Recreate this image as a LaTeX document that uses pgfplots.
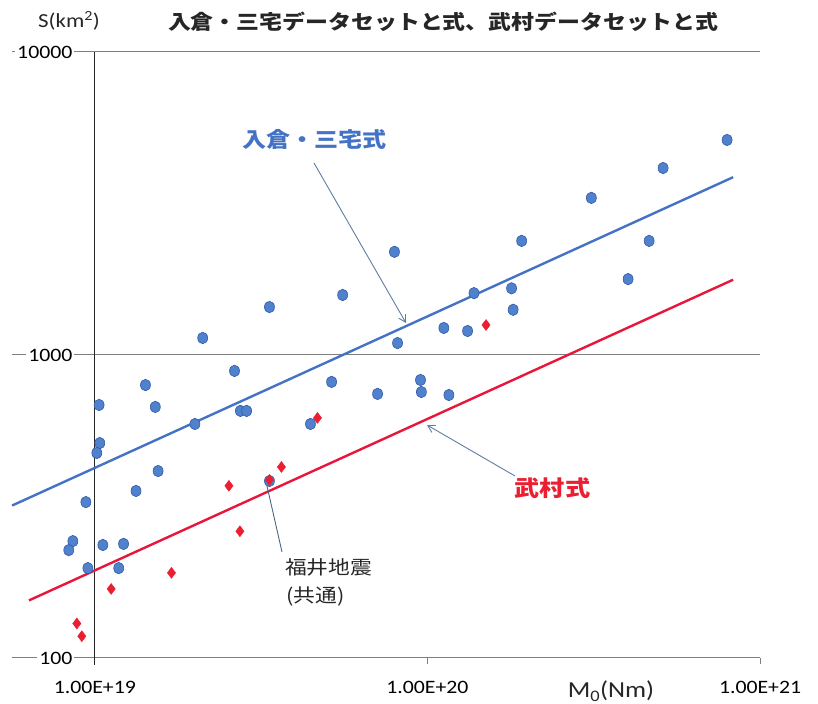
\documentclass[border=0pt]{standalone}
\usepackage{fontspec}
\setmainfont{Carlito}[FakeStretch=1.15]
\newfontfamily\jp{Noto Sans CJK JP}[FakeStretch=1.15]
\usepackage{pgfplots}
\usepackage{pgfplotstable}
\pgfplotsset{compat=1.18}
\usetikzlibrary{arrows.meta}

\definecolor{blueline}{RGB}{68,114,196}
\definecolor{bluedot}{RGB}{79,129,205}
\definecolor{bluedge}{RGB}{50,90,168}
\definecolor{redline}{RGB}{232,22,58}
\definecolor{reddot}{RGB}{235,30,50}
\definecolor{gridgray}{RGB}{128,128,128}
\definecolor{arrowgray}{RGB}{95,125,165}

% Irikura-Miyake data set
\pgfplotstableread{
M0 S
7.96e20 5125
5.11e20 4140
3.11e20 3300
7.96e19 2190
1.92e20 2380
4.64e20 2380
4.01e20 1780
1.38e20 1600
1.79e20 1660
1.81e20 1410
1.12e20 1228
1.32e20 1200
8.13e19 1095
9.53e19 827
9.59e19 755
1.16e20 738
5.56e19 1578
3.35e19 1440
2.11e19 1138
2.63e19 886
5.15e19 815
7.08e19 744
2.74e19 654
2.86e19 654
4.45e19 592
1.42e19 796
1.03e19 684
1.52e19 674
2.00e19 592
1.035e19 512
1.014e19 475
1.55e19 414
1.33e19 356
9.40e18 327
3.35e19 384
8.59e18 243
8.35e18 227
1.057e19 236
1.22e19 238
9.53e18 198
1.18e19 198
}\irikura

% Takemura data set
\pgfplotstableread{
M0 S
1.50e20 1256
4.67e19 620
3.64e19 427
2.53e19 370
3.35e19 387
2.73e19 262
1.70e19 191
1.12e19 169
8.83e18 130
9.14e18 118
}\takemura

\begin{document}
\begin{tikzpicture}
\begin{axis}[
  at={(0,0)}, anchor=south west,
  scale only axis, width=748bp, height=606bp,
  xmode=log, ymode=log,
  xmin=5.64e18, xmax=1e21, ymin=100, ymax=10000,
  axis line style={draw=none},
  xtick={1e19,1e20,1e21}, xticklabels={1.00E+19,1.00E+20,1.00E+21},
  ytick={100,1000,10000}, yticklabels={100,1000,10000},
  major tick length=0pt, minor tick length=0pt,
  ymajorgrids, major grid style={gridgray, line width=1bp},
  xticklabel style={font=\fontsize{19}{19}\selectfont, inner sep=0pt, yshift=-23bp},
  yticklabel style={font=\fontsize{19}{19}\selectfont, anchor=east, inner sep=2bp, fill=white, xshift=62.5bp},
  clip=false,
]
% vertical axis crossing at 1e19
\draw[black!85, line width=1.2bp] (axis cs:1e19,10000) -- ([yshift=-7bp]axis cs:1e19,100);
\draw[gridgray, line width=1bp] (axis cs:1e20,100) -- ([yshift=-6bp]axis cs:1e20,100);
\draw[gridgray, line width=1bp] (axis cs:1e21,100) -- ([yshift=-6bp]axis cs:1e21,100);

% formula lines
\addplot[blueline, line width=2.4bp] coordinates {(5.64e18,318.5) (8.30e20,3863)};
\addplot[redline, line width=2.4bp] coordinates {(6.34e18,154.9) (8.30e20,1772)};

\addplot[only marks, mark=*, mark size=5bp,
  mark options={fill=bluedot, draw=bluedge, line width=0.6bp, yscale=1.15}]
  table[x=M0, y=S] {\irikura};
\addplot[only marks, mark=diamond*, mark size=5.5bp,
  mark options={fill=reddot, draw=reddot, line width=0.4bp}]
  table[x=M0, y=S] {\takemura};
\end{axis}

% texts
\node[text=black!85, font=\jp\bfseries\fontsize{20}{24}\selectfont] at (431bp,636bp)
  {入倉・三宅データセットと式、武村データセットと式};
\node[text=black!85, font=\fontsize{20}{22}\selectfont] at (57bp,637bp) {S(km\textsuperscript{2})};
\node[text=black!85, font=\fontsize{23}{25}\selectfont] at (599bp,-33bp) {M\textsubscript{0}(Nm)};

\node[text=blueline, font=\jp\bfseries\fontsize{21}{24}\selectfont] at (302.5bp,519bp) {入倉・三宅式};
\node[text=reddot, font=\jp\bfseries\fontsize{22}{25}\selectfont] at (540.5bp,170bp) {武村式};
\node[anchor=west, inner sep=0pt, text=black!85, font=\jp\fontsize{19}{22}\selectfont] at (273bp,91bp) {福井地震};
\node[anchor=west, inner sep=0pt, text=black!85, font=\jp\fontsize{19}{22}\selectfont] at (274bp,62bp) {(共通)};

% annotation arrows
\draw[arrowgray, line width=0.9bp, -{Straight Barb[length=7bp, width=8bp]}] (302bp,495bp) -- (394bp,335bp);
\draw[arrowgray, line width=0.9bp, -{Straight Barb[length=7bp, width=8bp]}] (503bp,182bp) -- (415bp,233bp);
\draw[arrowgray!80!black, line width=0.9bp] (270bp,106bp) -- (255bp,172bp);

\pgfresetboundingbox
\useasboundingbox (-12bp,-46bp) rectangle (806bp,658bp);
\end{tikzpicture}
\end{document}
